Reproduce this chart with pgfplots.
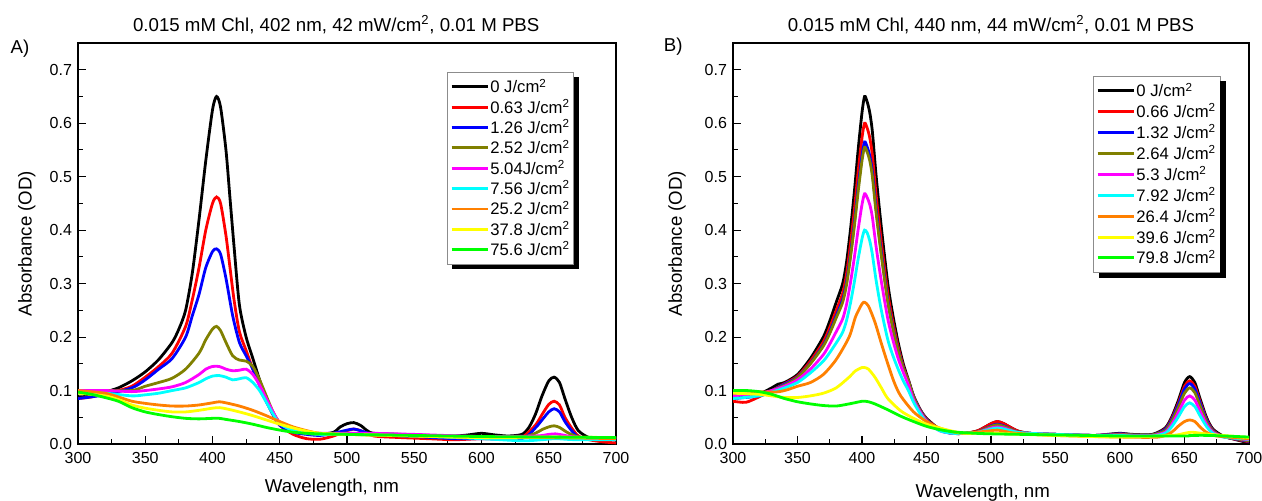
\documentclass[border=0pt]{standalone}
\usepackage{fontspec}
\setmainfont{Liberation Sans}
\usepackage{pgfplots}
\pgfplotsset{compat=1.18}
\definecolor{cOlive}{RGB}{128,128,0}
\definecolor{cMag}{RGB}{255,0,255}
\definecolor{cCyan}{RGB}{0,255,255}
\definecolor{cOrange}{RGB}{255,128,0}
\definecolor{cYellow}{RGB}{255,255,0}
\definecolor{cGreen}{RGB}{0,255,0}

\pgfplotsset{
  spec/.style={
    scale only axis, clip mode=individual,
    xmin=300, xmax=700, ymin=0, ymax=0.75,
    xtick={300,350,...,700}, ytick={0,0.1,...,0.7},
    minor x tick num=1, minor y tick num=1,
    tick align=inside, xtick pos=bottom, ytick pos=left,
    major tick length=6pt, minor tick length=3.5pt,
    axis line style={line width=0.9pt}, every tick/.style={line width=0.8pt, black},
    /pgf/number format/assume math mode=true,
    tick label style={font=\fontsize{12}{13}\selectfont},
    yticklabel style={xshift=-1pt, /pgf/number format/.cd, fixed, fixed zerofill, precision=1},
    xticklabel style={yshift=-3pt, /pgf/number format/.cd, fixed, precision=0, 1000 sep={}},
    ylabel={Absorbance (OD)},
    xlabel={Wavelength, nm},
    label style={font=\fontsize{14}{15}\selectfont},
    title style={font=\fontsize{14}{15}\selectfont, anchor=base, yshift=2.6pt},
    legend cell align=left,
    legend style={font=\fontsize{12.5}{14}\selectfont, draw=black!45, line width=0.5pt,
      anchor=north west, inner xsep=2pt, inner ysep=3pt, row sep=-0.7pt,
      nodes={inner xsep=1pt}},
    legend image code/.code={\draw[line width=2.2pt] (0pt,0pt) -- (27pt,0pt);},
    every axis plot/.append style={line width=2.1pt, smooth, tension=0.45},
  }
}
\newcommand\legshadow[1]{%
  \fill[black] ([yshift=-4pt]#1.north east) rectangle ([xshift=4pt,yshift=-3.5pt]#1.south east);
  \fill[black] ([xshift=4pt]#1.south west) rectangle ([xshift=4pt,yshift=-3.5pt]#1.south east);}

\begin{document}
\begin{tikzpicture}
\path[use as bounding box] (0,0) rectangle (946.5pt,375pt);

% ---------- A) ----------
\begin{axis}[spec, at={(58.5pt,42pt)}, anchor=south west,
  width=403.5pt, height=300.75pt,
  title={0.015 mM Chl, 402 nm, 42 mW/cm\textsuperscript{2}, 0.01 M PBS},
  title style={at={(0.48,1)}},
  ylabel style={at={(axis description cs:-0.095,0.5)}, anchor=center},
  xlabel style={at={(axis description cs:0.472,0)}, anchor=base, yshift=-36pt},
  legend style={at={(0.686,0.928)}, name=legA},
]
\addplot[black] coordinates {(300,0.088)(310,0.09)(320,0.097)(330,0.105)(340,0.118)(350,0.135)(360,0.158)(370,0.19)(375,0.215)(380,0.25)(385,0.32)(390,0.42)(395,0.53)(400,0.625)(403,0.65)(406,0.63)(410,0.55)(413,0.46)(416,0.37)(420,0.26)(425,0.2)(430,0.16)(435,0.12)(440,0.085)(445,0.058)(450,0.04)(460,0.025)(470,0.02)(480,0.018)(490,0.022)(495,0.032)(500,0.038)(505,0.04)(510,0.035)(515,0.025)(520,0.02)(540,0.018)(560,0.016)(580,0.015)(590,0.017)(600,0.02)(610,0.017)(620,0.015)(630,0.018)(635,0.03)(640,0.055)(645,0.09)(650,0.118)(654,0.125)(658,0.115)(662,0.085)(667,0.05)(672,0.025)(680,0.012)(690,0.01)(700,0.01)};
\addlegendentry{0 J/cm\textsuperscript{2}}
\addplot[red] coordinates {(300,0.085)(310,0.088)(320,0.095)(330,0.1)(340,0.108)(350,0.125)(360,0.145)(370,0.17)(380,0.22)(385,0.27)(390,0.33)(395,0.4)(400,0.45)(403,0.462)(406,0.45)(410,0.39)(413,0.33)(416,0.27)(420,0.21)(425,0.175)(430,0.14)(435,0.11)(440,0.08)(445,0.055)(450,0.035)(460,0.018)(470,0.01)(480,0.009)(490,0.015)(500,0.025)(505,0.028)(510,0.025)(520,0.015)(540,0.012)(560,0.01)(580,0.008)(600,0.01)(620,0.01)(630,0.012)(640,0.035)(645,0.055)(650,0.074)(654,0.08)(658,0.073)(662,0.05)(667,0.03)(672,0.015)(680,0.008)(690,0.004)(700,0.002)};
\addlegendentry{0.63 J/cm\textsuperscript{2}}
\addplot[blue] coordinates {(300,0.085)(320,0.092)(340,0.105)(350,0.12)(360,0.14)(370,0.16)(380,0.2)(385,0.24)(390,0.28)(395,0.33)(400,0.36)(403,0.365)(406,0.355)(410,0.31)(415,0.24)(420,0.19)(425,0.165)(430,0.14)(435,0.11)(440,0.08)(445,0.055)(450,0.035)(460,0.022)(470,0.018)(480,0.016)(490,0.02)(500,0.026)(505,0.028)(510,0.025)(520,0.018)(550,0.014)(580,0.01)(600,0.01)(630,0.01)(640,0.03)(645,0.045)(650,0.06)(654,0.066)(658,0.06)(662,0.042)(667,0.025)(672,0.013)(680,0.01)(700,0.008)};
\addlegendentry{1.26 J/cm\textsuperscript{2}}
\addplot[cOlive] coordinates {(300,0.1)(320,0.1)(340,0.1)(350,0.108)(360,0.115)(370,0.123)(380,0.14)(390,0.17)(395,0.195)(400,0.215)(403,0.22)(406,0.212)(410,0.19)(415,0.165)(420,0.157)(425,0.155)(430,0.145)(435,0.12)(440,0.09)(445,0.06)(450,0.04)(460,0.025)(470,0.02)(480,0.018)(500,0.02)(520,0.018)(550,0.015)(600,0.013)(630,0.013)(640,0.02)(645,0.027)(650,0.032)(654,0.034)(658,0.031)(665,0.02)(675,0.012)(700,0.01)};
\addlegendentry{2.52 J/cm\textsuperscript{2}}
\addplot[cMag] coordinates {(300,0.1)(320,0.1)(340,0.098)(350,0.1)(360,0.103)(370,0.107)(380,0.115)(390,0.13)(395,0.14)(400,0.145)(405,0.145)(410,0.14)(415,0.137)(420,0.138)(425,0.14)(430,0.13)(435,0.11)(440,0.085)(445,0.06)(450,0.04)(460,0.028)(470,0.022)(480,0.02)(500,0.02)(520,0.02)(550,0.018)(600,0.014)(640,0.015)(650,0.018)(655,0.019)(660,0.017)(670,0.013)(700,0.01)};
\addlegendentry{5.04J/cm\textsuperscript{2}}
\addplot[cCyan] coordinates {(300,0.095)(320,0.095)(340,0.09)(350,0.092)(360,0.095)(370,0.1)(380,0.105)(390,0.115)(395,0.122)(400,0.127)(405,0.128)(410,0.125)(415,0.12)(420,0.122)(425,0.124)(430,0.115)(435,0.1)(440,0.078)(445,0.056)(450,0.038)(460,0.025)(470,0.02)(480,0.018)(500,0.018)(550,0.015)(600,0.01)(630,0.006)(645,0.008)(655,0.01)(670,0.008)(700,0.008)};
\addlegendentry{7.56 J/cm\textsuperscript{2}}
\addplot[cOrange] coordinates {(300,0.1)(320,0.095)(330,0.088)(340,0.08)(350,0.076)(360,0.073)(370,0.071)(380,0.071)(390,0.073)(400,0.077)(405,0.079)(410,0.077)(420,0.071)(430,0.063)(440,0.053)(450,0.042)(460,0.032)(470,0.025)(480,0.02)(500,0.018)(550,0.015)(600,0.012)(650,0.012)(700,0.01)};
\addlegendentry{25.2 J/cm\textsuperscript{2}}
\addplot[cYellow] coordinates {(300,0.095)(320,0.09)(330,0.083)(340,0.073)(350,0.067)(360,0.063)(370,0.06)(380,0.06)(390,0.063)(400,0.067)(405,0.068)(410,0.066)(420,0.06)(430,0.053)(440,0.045)(450,0.037)(460,0.03)(470,0.024)(480,0.02)(500,0.018)(550,0.015)(600,0.012)(650,0.013)(700,0.012)};
\addlegendentry{37.8 J/cm\textsuperscript{2}}
\addplot[cGreen] coordinates {(300,0.097)(310,0.093)(320,0.087)(330,0.08)(340,0.068)(350,0.06)(360,0.055)(370,0.051)(380,0.048)(390,0.047)(400,0.048)(405,0.048)(410,0.046)(420,0.042)(430,0.037)(440,0.031)(450,0.026)(460,0.022)(470,0.02)(480,0.019)(500,0.018)(550,0.016)(600,0.014)(650,0.013)(700,0.012)};
\addlegendentry{75.6 J/cm\textsuperscript{2}}
\node[font=\fontsize{14}{15}\selectfont] at (rel axis cs:-0.108,0.987) {A)};
\end{axis}
\legshadow{legA}

% ---------- B) ----------
\begin{axis}[spec, at={(549.75pt,42pt)}, anchor=south west,
  width=387pt, height=300.75pt,
  title={0.015 mM Chl, 440 nm, 44 mW/cm\textsuperscript{2}, 0.01 M PBS},
  title style={at={(0.5,1)}},
  ylabel style={at={(axis description cs:-0.1085,0.5)}, anchor=center},
  xlabel style={at={(axis description cs:0.484,0)}, anchor=base, yshift=-40pt},
  legend style={at={(0.698,0.918)}, row sep=-0.3pt, name=legB},
]
\addplot[black] coordinates {(300,0.09)(310,0.088)(320,0.093)(330,0.105)(335,0.112)(340,0.115)(350,0.13)(360,0.16)(370,0.2)(375,0.23)(380,0.265)(385,0.3)(388,0.34)(391,0.4)(394,0.47)(397,0.55)(400,0.62)(402,0.65)(404,0.64)(406,0.62)(408,0.585)(411,0.5)(415,0.405)(420,0.3)(424,0.24)(428,0.19)(432,0.15)(436,0.12)(440,0.09)(445,0.065)(450,0.048)(460,0.028)(470,0.02)(480,0.02)(490,0.025)(500,0.038)(505,0.042)(510,0.038)(520,0.025)(530,0.02)(550,0.018)(580,0.016)(590,0.018)(600,0.02)(610,0.018)(625,0.018)(635,0.03)(640,0.05)(645,0.08)(650,0.115)(654,0.126)(658,0.115)(662,0.085)(667,0.05)(672,0.028)(680,0.015)(690,0.008)(700,0.002)};
\addlegendentry{0 J/cm\textsuperscript{2}}
\addplot[red] coordinates {(300,0.08)(310,0.078)(320,0.088)(330,0.1)(340,0.113)(350,0.127)(360,0.155)(370,0.191)(375,0.218)(380,0.25)(385,0.282)(388,0.318)(391,0.373)(394,0.436)(397,0.509)(400,0.573)(402,0.6)(404,0.591)(406,0.573)(408,0.541)(411,0.464)(415,0.377)(420,0.282)(424,0.227)(428,0.182)(432,0.145)(436,0.118)(440,0.089)(445,0.064)(450,0.047)(460,0.027)(470,0.02)(480,0.02)(490,0.025)(500,0.038)(505,0.042)(510,0.038)(520,0.025)(530,0.02)(550,0.018)(580,0.016)(600,0.019)(610,0.017)(625,0.017)(635,0.028)(640,0.047)(645,0.075)(650,0.108)(654,0.118)(658,0.108)(662,0.08)(667,0.047)(672,0.026)(680,0.014)(700,0.004)};
\addlegendentry{0.66 J/cm\textsuperscript{2}}
\addplot[blue] coordinates {(300,0.085)(320,0.09)(330,0.1)(340,0.112)(350,0.125)(360,0.151)(370,0.185)(375,0.21)(380,0.24)(385,0.27)(388,0.303)(391,0.353)(394,0.412)(397,0.48)(400,0.539)(402,0.565)(404,0.556)(406,0.539)(408,0.51)(411,0.438)(415,0.358)(420,0.269)(424,0.218)(428,0.176)(432,0.142)(436,0.117)(440,0.088)(445,0.063)(450,0.046)(460,0.026)(470,0.02)(480,0.02)(490,0.023)(500,0.034)(505,0.037)(510,0.034)(520,0.023)(530,0.02)(550,0.018)(580,0.016)(600,0.019)(610,0.017)(625,0.017)(635,0.027)(640,0.045)(645,0.072)(650,0.103)(654,0.113)(658,0.103)(662,0.077)(667,0.045)(672,0.025)(680,0.014)(700,0.005)};
\addlegendentry{1.32 J/cm\textsuperscript{2}}
\addplot[cOlive] coordinates {(300,0.092)(320,0.093)(330,0.1)(340,0.11)(350,0.124)(360,0.15)(370,0.183)(375,0.207)(380,0.236)(385,0.265)(388,0.298)(391,0.348)(394,0.406)(397,0.472)(400,0.53)(402,0.555)(404,0.546)(406,0.53)(408,0.501)(411,0.431)(415,0.352)(420,0.265)(424,0.215)(428,0.174)(432,0.141)(436,0.117)(440,0.087)(445,0.062)(450,0.045)(460,0.026)(470,0.02)(480,0.02)(490,0.023)(500,0.033)(505,0.036)(510,0.033)(520,0.023)(530,0.02)(550,0.018)(580,0.016)(600,0.018)(610,0.017)(625,0.017)(635,0.025)(640,0.042)(645,0.067)(650,0.095)(654,0.105)(658,0.096)(662,0.072)(667,0.042)(672,0.024)(680,0.014)(700,0.006)};
\addlegendentry{2.64 J/cm\textsuperscript{2}}
\addplot[cMag] coordinates {(300,0.09)(320,0.095)(330,0.1)(340,0.108)(350,0.12)(360,0.14)(370,0.167)(375,0.187)(380,0.21)(385,0.234)(388,0.261)(391,0.301)(394,0.348)(397,0.401)(400,0.448)(402,0.468)(404,0.461)(406,0.448)(408,0.425)(411,0.368)(415,0.304)(420,0.234)(424,0.194)(428,0.16)(432,0.134)(436,0.11)(440,0.082)(445,0.06)(450,0.043)(460,0.025)(470,0.02)(480,0.02)(490,0.022)(500,0.03)(505,0.032)(510,0.03)(520,0.022)(530,0.02)(550,0.018)(580,0.016)(600,0.017)(610,0.016)(625,0.016)(635,0.022)(640,0.036)(645,0.058)(650,0.082)(654,0.09)(658,0.082)(662,0.062)(667,0.037)(672,0.022)(680,0.014)(700,0.008)};
\addlegendentry{5.3 J/cm\textsuperscript{2}}
\addplot[cCyan] coordinates {(300,0.085)(320,0.09)(330,0.097)(340,0.105)(350,0.115)(360,0.133)(370,0.155)(375,0.171)(380,0.189)(385,0.209)(388,0.231)(391,0.263)(394,0.302)(397,0.346)(400,0.384)(402,0.4)(404,0.395)(406,0.38)(408,0.355)(411,0.305)(415,0.25)(420,0.195)(424,0.165)(428,0.14)(432,0.118)(436,0.1)(440,0.078)(445,0.057)(450,0.041)(460,0.025)(470,0.02)(480,0.02)(490,0.022)(500,0.028)(505,0.03)(510,0.028)(520,0.022)(530,0.02)(550,0.018)(580,0.016)(600,0.016)(610,0.015)(625,0.015)(635,0.02)(640,0.032)(645,0.05)(650,0.07)(654,0.077)(658,0.07)(662,0.053)(667,0.033)(672,0.02)(680,0.013)(700,0.009)};
\addlegendentry{7.92 J/cm\textsuperscript{2}}
\addplot[cOrange] coordinates {(300,0.1)(330,0.097)(340,0.1)(350,0.108)(360,0.115)(370,0.13)(380,0.158)(390,0.2)(395,0.238)(400,0.262)(402,0.265)(405,0.258)(410,0.228)(415,0.188)(420,0.15)(425,0.115)(430,0.09)(440,0.06)(450,0.042)(460,0.03)(470,0.023)(480,0.02)(500,0.025)(505,0.026)(510,0.024)(520,0.02)(550,0.016)(600,0.013)(630,0.013)(640,0.022)(645,0.033)(650,0.042)(654,0.045)(658,0.042)(662,0.032)(667,0.022)(675,0.015)(700,0.01)};
\addlegendentry{26.4 J/cm\textsuperscript{2}}
\addplot[cYellow] coordinates {(300,0.095)(320,0.093)(330,0.09)(340,0.087)(350,0.087)(360,0.09)(370,0.095)(380,0.105)(390,0.125)(395,0.137)(400,0.143)(402,0.143)(405,0.14)(410,0.125)(415,0.105)(420,0.085)(430,0.062)(440,0.048)(450,0.037)(460,0.03)(470,0.024)(480,0.02)(500,0.02)(550,0.016)(600,0.013)(640,0.016)(650,0.02)(655,0.022)(660,0.021)(670,0.018)(700,0.012)};
\addlegendentry{39.6 J/cm\textsuperscript{2}}
\addplot[cGreen] coordinates {(300,0.1)(310,0.1)(320,0.098)(330,0.093)(340,0.085)(350,0.079)(360,0.075)(370,0.072)(380,0.071)(390,0.075)(400,0.08)(402,0.08)(405,0.079)(410,0.075)(420,0.064)(430,0.052)(440,0.042)(450,0.033)(460,0.027)(470,0.023)(480,0.021)(500,0.019)(550,0.017)(600,0.015)(650,0.015)(655,0.016)(670,0.016)(700,0.013)};
\addlegendentry{79.8 J/cm\textsuperscript{2}}
\node[font=\fontsize{14}{15}\selectfont] at (rel axis cs:-0.116,0.99) {B)};
\end{axis}
\legshadow{legB}
\end{tikzpicture}
\end{document}
